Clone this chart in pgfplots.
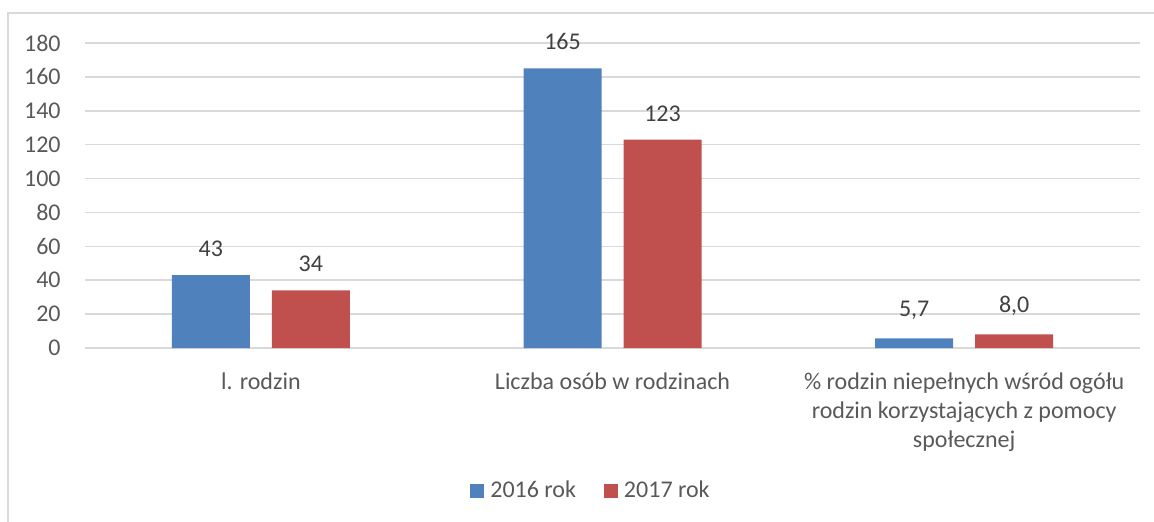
\documentclass[border=0pt]{standalone}
\usepackage{fontspec}
\setmainfont{Carlito}
\usepackage{pgfplots}
\pgfplotsset{compat=1.18}
\definecolor{cblue}{HTML}{4F81BD}
\definecolor{cred}{HTML}{C0504D}
\definecolor{txt}{HTML}{595959}
\definecolor{lbl}{HTML}{404040}
\definecolor{grd}{HTML}{D9D9D9}
\begin{document}
\begin{tikzpicture}
\fontsize{12}{14.5}\selectfont
\path[use as bounding box] (0,0) rectangle (577pt,260.5pt);
\draw[grd, line width=1pt] (4pt,-2pt) -- (4pt,254pt) -- (580pt,254pt);
\begin{axis}[
  at={(42.5pt,86.5pt)}, anchor=south west,
  scale only axis, width=527.5pt, height=152.5pt,
  ybar=11pt, bar width=39pt,
  xmin=-0.5, xmax=2.5, ymin=0, ymax=180,
  ytick={0,20,...,180},
  xtick={0,1,2},
  xticklabels={{l. rodzin},{Liczba osób w rodzinach},{\% rodzin niepełnych wśród ogółu\\rodzin korzystających z pomocy\\społecznej}},
  axis line style={draw=none},
  major tick length=0pt,
  ymajorgrids, grid style={grd, line width=0.8pt},
  /pgf/number format/assume math mode=true,
  ticklabel style={font=\fontsize{12}{14.5}\selectfont, text=txt},
  yticklabel style={inner sep=0pt, xshift=-12pt},
  xticklabel style={align=center, inner sep=0pt, yshift=-12pt, anchor=north},
  nodes near coords,
  point meta=explicit symbolic,
  every node near coord/.append style={font=\fontsize{12}{14.5}\selectfont, text=lbl, inner sep=0pt, anchor=south, yshift=9pt},
  legend style={draw=none, at={(0.4815,-0.469)}, anchor=center, legend columns=2,
    font=\fontsize{12}{14.5}\selectfont, text=txt,
    /tikz/every even column/.append style={column sep=11pt},
    nodes={inner ysep=1pt, inner xsep=3pt}},
  legend image code/.code={\fill[#1] (0pt,-3.5pt) rectangle (7pt,3.5pt);},
]
\addplot[fill=cblue, draw=none] table[meta=label] {
x y label
0 43 43
1 165 165
2 5.7 5,7
};
\addlegendentry{2016 rok}
\addplot[fill=cred, draw=none] table[meta=label] {
x y label
0 34 34
1 123 123
2 8.0 8,0
};
\addlegendentry{2017 rok}
\end{axis}
\end{tikzpicture}
\end{document}
